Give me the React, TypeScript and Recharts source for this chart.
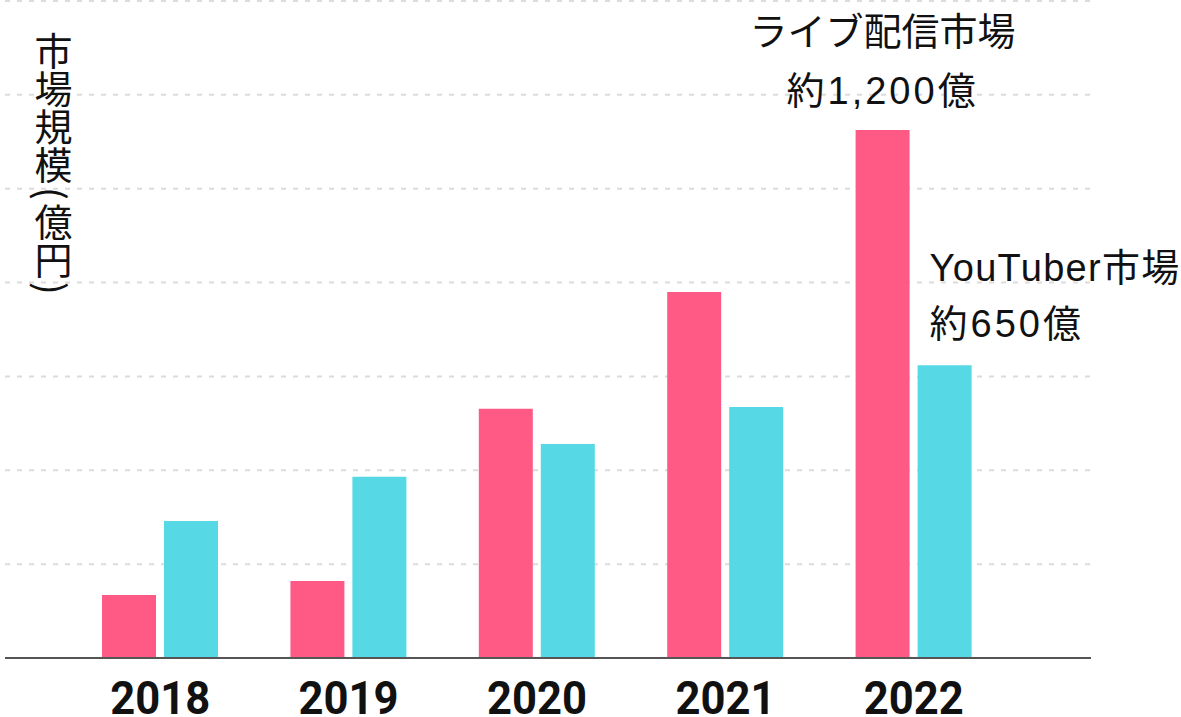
import { BarChart, Bar, XAxis, YAxis, CartesianGrid, LabelList } from "recharts";

const years = ["2018", "2019", "2020", "2021", "2022"];
const liveMarket = [134, 164, 531, 780, 1125];
const youtuberMarket = [292, 386, 456, 535, 624];
const yTicks = [0, 200, 400, 600, 800, 1000, 1200, 1400];

const data = years.map((year, i) => ({
  year,
  live: liveMarket[i],
  youtuber: youtuberMarket[i],
}));

const JP_FONT = '"Noto Sans CJK JP", "Noto Sans", sans-serif';
const NOTE_FONT = '"Liberation Sans", "Noto Sans CJK JP", sans-serif';

const YearTick = (props: any) => {
  const { x, payload } = props;
  return (
    <text
      x={x}
      y={714}
      textAnchor="middle"
      fontFamily="Roboto, sans-serif"
      fontWeight={700}
      fontSize={46}
      textLength={100}
      lengthAdjust="spacingAndGlyphs"
      fill="#111"
    >
      {payload.value}
    </text>
  );
};

const LiveNote = (props: any) => {
  const { x, y, width, index } = props;
  if (index !== years.length - 1) return null;
  const cx = Number(x) + Number(width) / 2;
  return (
    <text textAnchor="middle" fontFamily={NOTE_FONT} fontSize={38} fill="#111">
      <tspan x={cx} y={Number(y) - 85}>ライブ配信市場</tspan>
      <tspan x={cx} y={Number(y) - 26} letterSpacing={3}>約1,200億</tspan>
    </text>
  );
};

const YoutuberNote = (props: any) => {
  const { x, y, index } = props;
  if (index !== years.length - 1) return null;
  const lx = Number(x) + 12;
  return (
    <text textAnchor="start" fontFamily={NOTE_FONT} fontSize={38} fill="#111">
      <tspan x={lx} y={Number(y) - 84} letterSpacing={1.3}>YouTuber市場</tspan>
      <tspan x={lx} y={Number(y) - 28} letterSpacing={3}>約650億</tspan>
    </text>
  );
};

const halfParen = { display: "inline-block", height: 19, textAlign: "center" as const };

export default function App() {
  return (
    <div
      style={{
        position: "absolute",
        left: 0,
        top: 0,
        width: 1181,
        height: 717,
        background: "#fff",
        overflow: "hidden",
      }}
    >
      <BarChart
        width={1181}
        height={717}
        data={data}
        margin={{ top: 1, right: 90, left: 5, bottom: 0 }}
        barSize={54}
        barGap={8}
      >
        <CartesianGrid
          vertical={false}
          stroke="#dcdcdc"
          strokeWidth={2}
          strokeDasharray="5 7"
        />
        <XAxis
          dataKey="year"
          height={59}
          padding={{ left: 61, right: 83 }}
          axisLine={{ stroke: "#555", strokeWidth: 2 }}
          tickLine={false}
          tick={<YearTick />}
          interval={0}
        />
        <YAxis
          width={0}
          domain={[0, 1400]}
          ticks={yTicks}
          interval={0}
          axisLine={false}
          tickLine={false}
          tick={{ fill: "none", fontSize: 1 }}
        />
        <Bar dataKey="live" fill="#ff5a85" isAnimationActive={false}>
          <LabelList dataKey="live" content={<LiveNote />} />
        </Bar>
        <Bar dataKey="youtuber" fill="#56d9e5" isAnimationActive={false}>
          <LabelList dataKey="youtuber" content={<YoutuberNote />} />
        </Bar>
      </BarChart>
      <div
        style={{
          position: "absolute",
          left: 34,
          top: 32,
          writingMode: "vertical-rl",
          fontFamily: JP_FONT,
          fontSize: 38,
          lineHeight: 1,
          color: "#111",
        }}
      >
        市場規模<span style={halfParen}>(</span>億円<span style={halfParen}>)</span>
      </div>
    </div>
  );
}
